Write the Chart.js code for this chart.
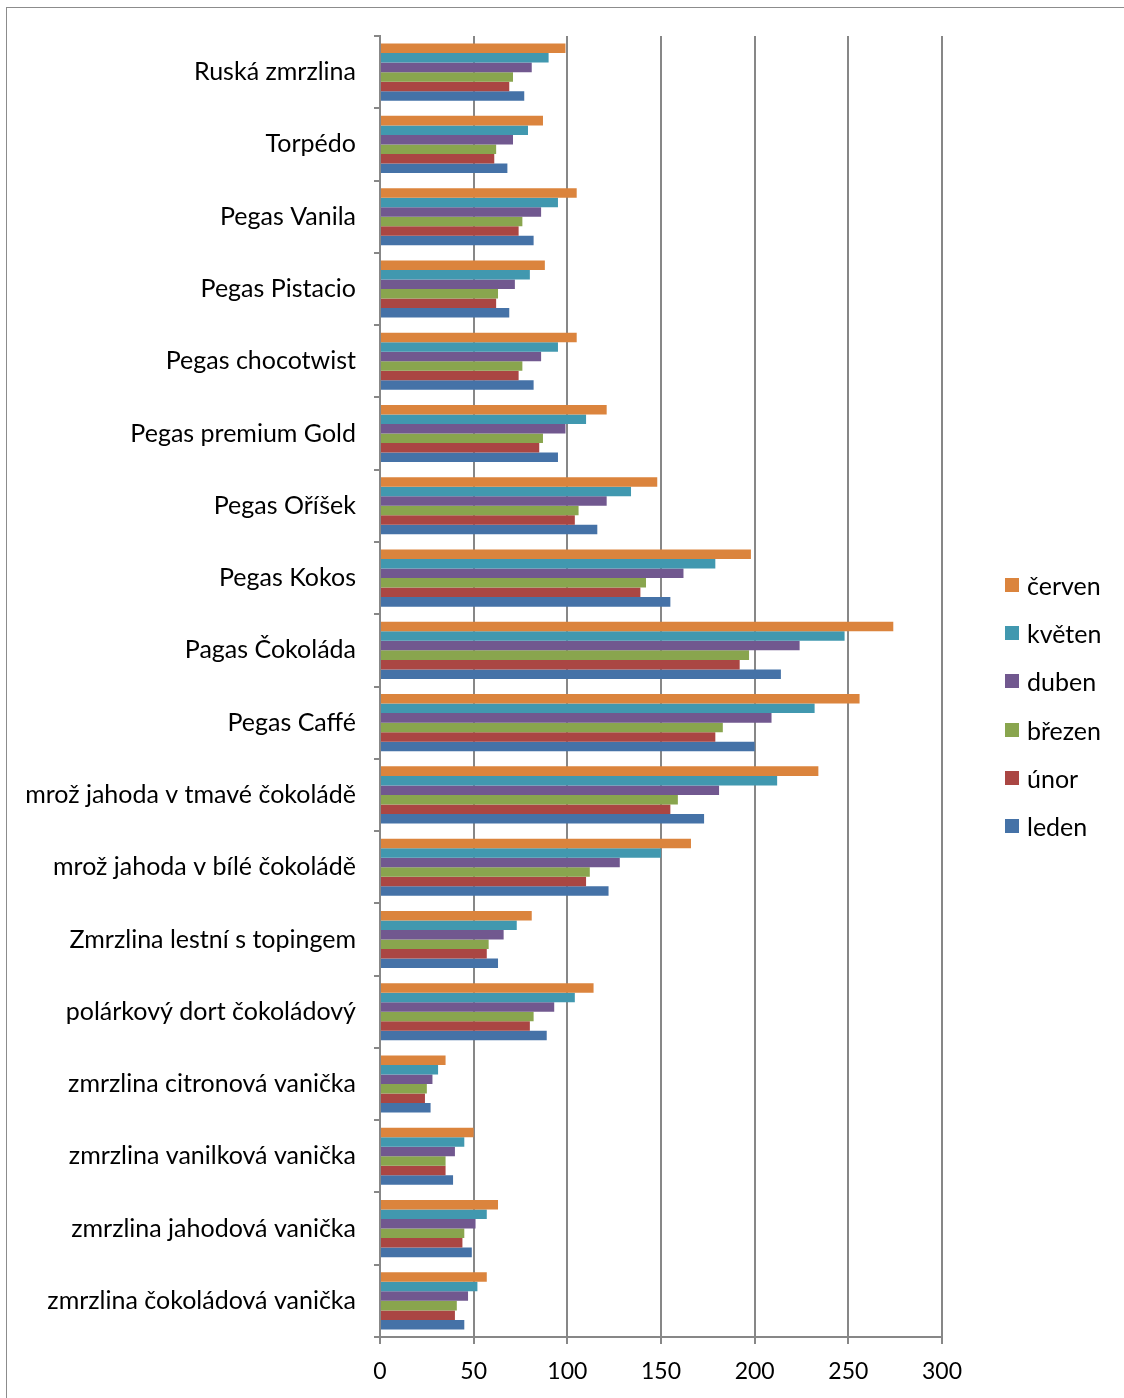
<!DOCTYPE html>
<html>
<head>
<meta charset="utf-8">
<script src="https://cdn.jsdelivr.net/npm/chart.js@4.4.0/dist/chart.umd.min.js"></script>
<style>
  body { margin: 0; background: #fff; }
  #wrap { position: relative; width: 1124px; height: 1398px; overflow: hidden; }
  #frame { position: absolute; left: 6px; top: 7px; width: 1200px; height: 1500px;
           border-left: 1.5px solid #8c8c8c; border-top: 1.5px solid #8c8c8c; }
  #graf { position: absolute; left: 0; top: 0; }
  #legenda { position: absolute; left: 1005px; top: 561px; font-family: Lato, sans-serif; font-size: 25px; color: #000; }
  .polozka { height: 48.2px; display: flex; align-items: center; line-height: 28px; }
  .polozka span.box { width: 14px; height: 14px; margin-right: 8px; display: inline-block; }
</style>
</head>
<body>
<div id="wrap">
  <div id="frame"></div>
  <canvas id="graf" width="1124" height="1398"></canvas>
  <div id="legenda"></div>
</div>
<script>
// kategorie odshora dolů
const druhy = [
  "Ruská zmrzlina", "Torpédo", "Pegas Vanila", "Pegas Pistacio", "Pegas chocotwist",
  "Pegas premium Gold", "Pegas Oříšek", "Pegas Kokos", "Pagas Čokoláda", "Pegas Caffé",
  "mrož jahoda v tmavé čokoládě", "mrož jahoda v bílé čokoládě", "Zmrzlina lestní s topingem",
  "polárkový dort čokoládový", "zmrzlina citronová vanička", "zmrzlina vanilková vanička",
  "zmrzlina jahodová vanička", "zmrzlina čokoládová vanička"
];

const cerven = [99, 87, 105, 88, 105, 121, 148, 198, 274, 256, 234, 166, 81, 114, 35, 50, 63, 57];
const kveten = [90, 79, 95, 80, 95, 110, 134, 179, 248, 232, 212, 150, 73, 104, 31, 45, 57, 52];
const duben  = [81, 71, 86, 72, 86, 99, 121, 162, 224, 209, 181, 128, 66, 93, 28, 40, 51, 47];
const brezen = [71, 62, 76, 63, 76, 87, 106, 142, 197, 183, 159, 112, 58, 82, 25, 35, 45, 41];
const unor   = [69, 61, 74, 62, 74, 85, 104, 139, 192, 179, 155, 110, 57, 80, 24, 35, 44, 40];
const leden  = [77, 68, 82, 69, 82, 95, 116, 155, 214, 200, 173, 122, 63, 89, 27, 39, 49, 45];

const mesice = ["červen", "květen", "duben", "březen", "únor", "leden"];
const barvy = ["#DB843D", "#4198AF", "#71588F", "#89A54E", "#AA4643", "#4572A7"];
const hodnoty = [cerven, kveten, duben, brezen, unor, leden];

const osaX = [0, 50, 100, 150, 200, 250, 300];

const pismo = "Lato, sans-serif";

// legenda vpravo
const leg = document.getElementById('legenda');
mesice.forEach((m, i) => {
  const d = document.createElement('div');
  d.className = 'polozka';
  d.innerHTML = `<span class="box" style="background:${barvy[i]}"></span><span>${m}</span>`;
  leg.appendChild(d);
});

new Chart(document.getElementById('graf'), {
  type: 'bar',
  data: {
    labels: druhy,
    datasets: mesice.map((m, i) => ({
      label: m,
      data: hodnoty[i],
      backgroundColor: barvy[i],
      borderWidth: 0,
      categoryPercentage: 0.79,
      barPercentage: 1.0
    }))
  },
  options: {
    indexAxis: 'y',
    responsive: false,
    animation: false,
    layout: { padding: { top: 36, right: 182, left: 0, bottom: 0 } },
    plugins: { legend: { display: false }, tooltip: { enabled: false } },
    scales: {
      x: {
        min: osaX[0],
        max: osaX[osaX.length - 1],
        afterBuildTicks: s => { s.ticks = osaX.map(v => ({ value: v })); },
        afterFit: s => { s.height = 61; },
        grid: { color: '#878787', lineWidth: 2, tickLength: 7, tickColor: '#878787' },
        border: { color: '#878787', width: 2 },
        ticks: { font: { family: pismo, size: 23 }, color: '#000', padding: 14 }
      },
      y: {
        afterFit: s => { s.width = 380; },
        grid: { drawOnChartArea: false, color: '#878787', lineWidth: 2, tickLength: 6 },
        border: { color: '#878787', width: 2 },
        ticks: { font: { family: pismo, size: 25 }, color: '#000', padding: 18, autoSkip: false }
      }
    }
  }
});
</script>
</body>
</html>
